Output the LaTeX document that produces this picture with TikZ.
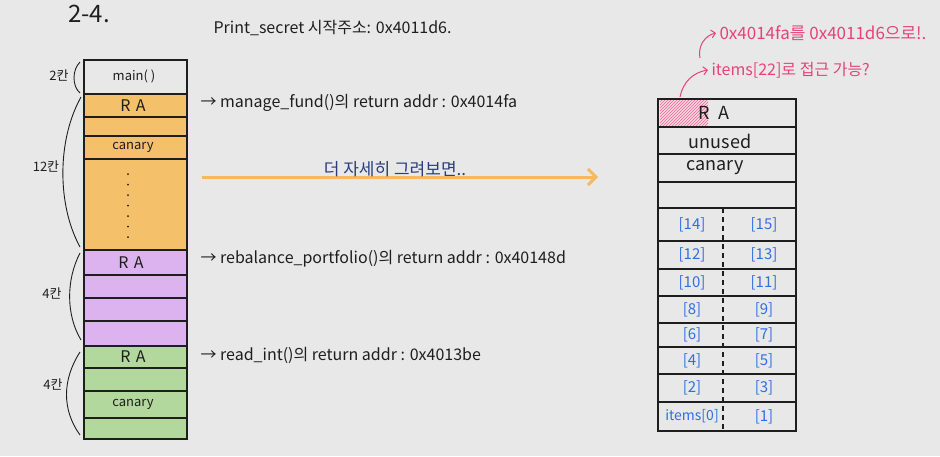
\documentclass[tikz,border=0pt]{standalone}
\usepackage{fontspec}
\setmainfont{Noto Sans CJK KR}
\usetikzlibrary{arrows.meta,calc,patterns}
\definecolor{paper}{HTML}{E8E8E8}
\definecolor{ink}{HTML}{1E1E1E}
\definecolor{hilite}{HTML}{F4C06A}
\definecolor{lilac}{HTML}{DDB3EF}
\definecolor{leaf}{HTML}{B2D89E}
\definecolor{note}{HTML}{E5427A}
\definecolor{idx}{HTML}{2F6FE0}
\definecolor{navy}{HTML}{2A3C7E}
\tikzset{
  cell/.style={draw=ink,line width=1.1pt},
  small/.style={font=\fontsize{13}{15}\selectfont,text=ink},
  big/.style={font=\fontsize{16}{18}\selectfont,text=ink},
  wide/.style={font=\fontsize{18}{20}\selectfont,text=ink},
  memo/.style={font=\fontsize{16}{18}\selectfont,text=ink,anchor=west},
  pinknote/.style={font=\fontsize{16}{18}\selectfont,text=note,anchor=west},
  index/.style={font=\fontsize{15}{17}\selectfont,text=idx},
  brace/.style={draw=ink,line width=0.9pt},
}
\begin{document}
\begin{tikzpicture}[x=1pt,y=-1pt,>=Stealth]
  \fill[paper] (0,0) rectangle (940,456);
  \useasboundingbox (0,0) rectangle (940,456);

  % title
  \node[font=\fontsize{24}{26}\selectfont,text=ink] (title) at (89,14) {2-4.};
  \node[memo] (secret) at (210,28) {Print\_secret 시작주소: 0x4011d6.};

  % left stack
  \fill[hilite] (84,94) rectangle (187,250);
  \fill[lilac] (84,250) rectangle (187,346);
  \fill[leaf] (84,346) rectangle (187,439);
  \foreach \y in {94,117,136,159,250,275,298,321,346,368,391,418}
    \draw[cell] (84,\y) -- (187,\y);
  \draw[cell] (84,60) rectangle (187,439);
  \node[small] (main) at (134,76.5) {main( )};
  \node[big] (raA) at (133,105.5) {R\,\,A};
  \node[small] (canA) at (133,147) {canary};
  \draw[ink,line width=2pt,line cap=round,dash pattern=on 0pt off 10.5pt] (128,174) -- (128,238);
  \node[big] (raB) at (131,262.5) {R\,\,A};
  \node[big] (raC) at (133,357) {R\,\,A};
  \node[small] (canC) at (133,404.5) {canary};

  % sizes
  \node[small] (two) at (59,75) {2칸};
  \draw[brace] (80,62) .. controls (72,70) and (72,86) .. (80,93);
  \node[small] (twelve) at (46,166) {12칸};
  \draw[brace] (81,97) .. controls (57,140) and (57,205) .. (80,247);
  \node[small] (fourB) at (52,293) {4칸};
  \draw[brace] (80,253) .. controls (66,280) and (66,315) .. (81,340);
  \node[small] (fourC) at (53,384) {4칸};
  \draw[brace] (80,352) .. controls (62,380) and (62,410) .. (80,435);

  % return addresses
  \node[memo] (fund) at (197,103) {→ manage\_fund()의 return addr : 0x4014fa};
  \node[memo] (rebal) at (197,259) {→ rebalance\_portfolio()의 return addr : 0x40148d};
  \node[memo] (readint) at (197,355) {→ read\_int()의 return addr : 0x4013be};

  % zoom arrow
  \coordinate (zfrom) at (202,177);
  \coordinate (zto) at (598,177);
  \draw[hilite!90!orange,line width=3pt,-{Straight Barb[length=8pt,width=16pt]}] (zfrom) -- (zto);
  \node[font=\fontsize{17}{19}\selectfont,text=navy] (closer) at (395,169) {더 자세히 그려보면..};

  % right stack
  \fill[note!22] (660,100) rectangle (708,127);
  \fill[pattern=north east lines,pattern color=note!80] (660,100) rectangle (708,127);
  \foreach \y in {127,154,182,208,241,269,296,323,347,374,402}
    \draw[cell] (658,\y) -- (796,\y);
  \draw[cell] (658,99) rectangle (796,431);
  \draw[ink,line width=1.3pt,dash pattern=on 5pt off 4pt] (723,208) -- (723,431);
  \node[wide] (ra) at (714,113) {R\,\,\,A};
  \node[wide] (unused) at (720,141) {unused};
  \node[wide] (canary) at (715,168) {canary};
  \foreach \l/\r/\y in {[14]/[15]/224.5,[12]/[13]/255,[10]/[11]/282.5,[8]/[9]/309.5,
                        [6]/[7]/335,[4]/[5]/360.5,[2]/[3]/388}{
    \node[index] at (692,\y) {\l};
    \node[index] at (764,\y) {\r};
  }
  \node[index,font=\fontsize{14}{16}\selectfont] (item0) at (692,416.5) {items[0]};
  \node[index] (item1) at (764,416.5) {[1]};

  % notes
  \node[pinknote,font=\fontsize{17}{19}\selectfont] (patch) at (716,33) {0x4014fa를 0x4011d6으로!.};
  \node[pinknote] (reach) at (708,70) {items[22]로 접근 가능?};
  \coordinate (ratop) at (680,97);
  \coordinate (reachfoot) at (700,58);
  \draw[note,line width=1pt,-{Straight Barb[length=4pt]}] (ratop) to[bend left=35] (reach.west);
  \draw[note,line width=1pt,-{Straight Barb[length=4pt]}] (reachfoot) to[bend left=45] (patch.west);
\end{tikzpicture}
\end{document}
